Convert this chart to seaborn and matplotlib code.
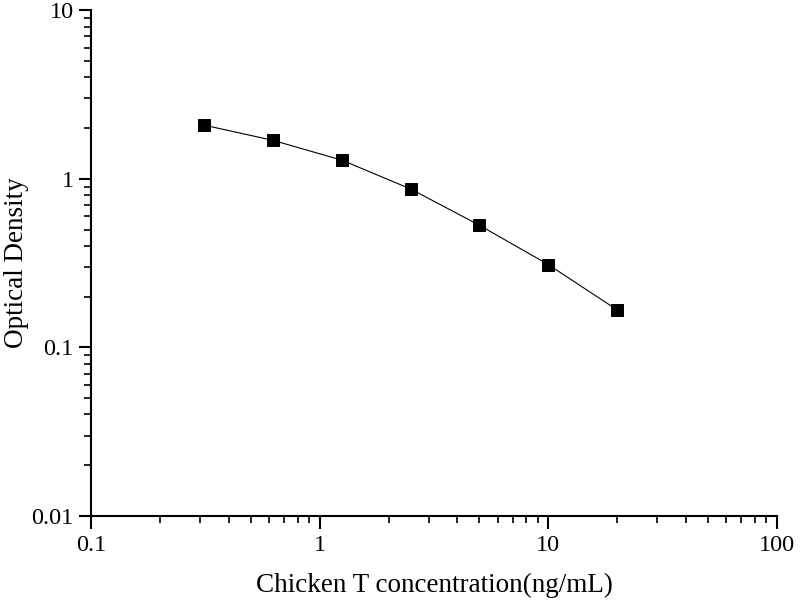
import numpy as np
import pandas as pd
import matplotlib
matplotlib.use("Agg")
import matplotlib.pyplot as plt
import seaborn as sns
from matplotlib.ticker import LogLocator, FixedLocator, FixedFormatter, NullFormatter

# Standard curve values
concentration = [0.3125, 0.625, 1.25, 2.5, 5, 10, 20]
optical_density = [2.08, 1.69, 1.29, 0.87, 0.53, 0.31, 0.167]

df = pd.DataFrame({"conc": concentration, "od": optical_density})

sns.set_style("ticks")
plt.rcParams['font.family'] = ['Liberation Serif', 'DejaVu Serif']
plt.rcParams['text.color'] = 'black'
plt.rcParams['axes.labelcolor'] = 'black'

fig = plt.figure(figsize=(8, 6), dpi=100)
ax = fig.add_axes([0.114, 0.14, 0.857, 0.843])

sns.lineplot(data=df, x="conc", y="od", ax=ax, color="black", linewidth=0.8)
sns.scatterplot(data=df, x="conc", y="od", ax=ax, marker="s", s=75,
                color="black", edgecolor="black", zorder=3)

ax.set_xscale("log")
ax.set_yscale("log")
ax.set_xlim(0.1, 100)
ax.set_ylim(0.01, 10)

ax.xaxis.set_major_locator(FixedLocator([0.1, 1, 10, 100]))
ax.xaxis.set_major_formatter(FixedFormatter(["0.1", "1", "10", "100"]))
ax.yaxis.set_major_locator(FixedLocator([0.01, 0.1, 1, 10]))
ax.yaxis.set_major_formatter(FixedFormatter(["0.01", "0.1", "1", "10"]))
ax.xaxis.set_minor_locator(LogLocator(base=10, subs=np.arange(2, 10)))
ax.yaxis.set_minor_locator(LogLocator(base=10, subs=np.arange(2, 10)))
ax.xaxis.set_minor_formatter(NullFormatter())
ax.yaxis.set_minor_formatter(NullFormatter())

ax.spines['right'].set_visible(False)
ax.spines['top'].set_visible(False)
for s in ['left', 'bottom']:
    ax.spines[s].set_linewidth(1.5)
    ax.spines[s].set_color("black")

ax.tick_params(which="major", direction="out", length=9, width=1.5, labelsize=17.5, colors="black")
ax.tick_params(which="minor", direction="out", length=5, width=1.2, colors="black")
ax.tick_params(axis="x", which="major", pad=5)

ax.set_xlabel("Chicken T concentration(ng/mL)", fontsize=19.5, labelpad=12, color="black")
ax.set_ylabel("Optical Density", fontsize=19.5, color="black")
ax.yaxis.set_label_coords(-0.09, 0.5)

fig.savefig("out.png", dpi=100)
